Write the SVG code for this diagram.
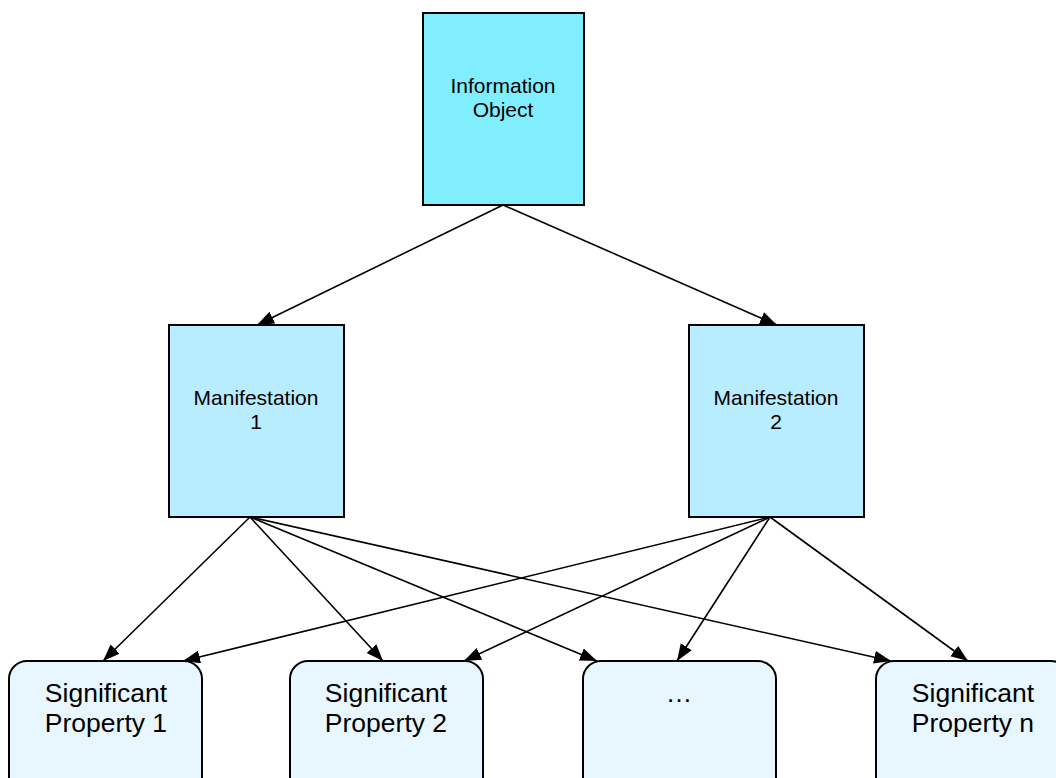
<svg xmlns="http://www.w3.org/2000/svg" width="1056" height="778" viewBox="0 0 1056 778">
<defs>
<marker id="arr" markerUnits="userSpaceOnUse" markerWidth="20" markerHeight="14" refX="17" refY="6.5" orient="auto">
<path d="M0,0 L17,6.5 L0,13 z" fill="#000"/>
</marker>
<style>
.box{stroke:#000;stroke-width:2}
.io{fill:#80EEFF}
.man{fill:#B8ECFF}
.sp{fill:#E8F7FF}
.t1{font-family:"Liberation Sans",Arial,sans-serif;font-size:21px;fill:#000;text-anchor:middle}
.t2{font-family:"Liberation Sans",Arial,sans-serif;font-size:26.5px;fill:#000;text-anchor:middle}
.c{stroke:#000;stroke-width:1.6;fill:none;marker-end:url(#arr)}
</style>
</defs>
<rect width="1056" height="778" fill="#fff"/>
<g id="connectors">
<line class="c" x1="503" y1="205" x2="257" y2="325"/>
<line class="c" x1="503" y1="205" x2="777" y2="325"/>
<line class="c" x1="250" y1="517" x2="103" y2="661"/>
<line class="c" x1="250" y1="517" x2="383" y2="661"/>
<line class="c" x1="250" y1="517" x2="597" y2="661"/>
<line class="c" x1="250" y1="517" x2="891" y2="661"/>
<line class="c" x1="770" y1="517" x2="183" y2="661"/>
<line class="c" x1="770" y1="517" x2="464" y2="661"/>
<line class="c" x1="770" y1="517" x2="677" y2="661"/>
<line class="c" x1="770" y1="517" x2="968" y2="661"/>
</g>
<g id="information-object">
<rect class="box io" x="423" y="13" width="161" height="192"/>
<text class="t1" x="503" y="93">Information</text>
<text class="t1" x="503" y="117">Object</text>
</g>
<g id="manifestation-1">
<rect class="box man" x="169" y="325" width="175" height="192"/>
<text class="t1" x="256" y="405">Manifestation</text>
<text class="t1" x="256" y="429">1</text>
</g>
<g id="manifestation-2">
<rect class="box man" x="689" y="325" width="175" height="192"/>
<text class="t1" x="776" y="405">Manifestation</text>
<text class="t1" x="776" y="429">2</text>
</g>
<g id="sp-1">
<rect class="box sp" x="9" y="661" width="193" height="140" rx="18" ry="18"/>
<text class="t2" x="106" y="702">Significant</text>
<text class="t2" x="106" y="732">Property 1</text>
</g>
<g id="sp-2">
<rect class="box sp" x="290" y="661" width="193" height="140" rx="18" ry="18"/>
<text class="t2" x="386" y="702">Significant</text>
<text class="t2" x="386" y="732">Property 2</text>
</g>
<g id="sp-dots">
<rect class="box sp" x="583" y="661" width="193" height="140" rx="18" ry="18"/>
<text class="t2" x="679" y="702">…</text>
</g>
<g id="sp-n">
<rect class="box sp" x="876" y="661" width="193" height="140" rx="18" ry="18"/>
<text class="t2" x="973" y="702">Significant</text>
<text class="t2" x="973" y="732">Property n</text>
</g>
</svg>
